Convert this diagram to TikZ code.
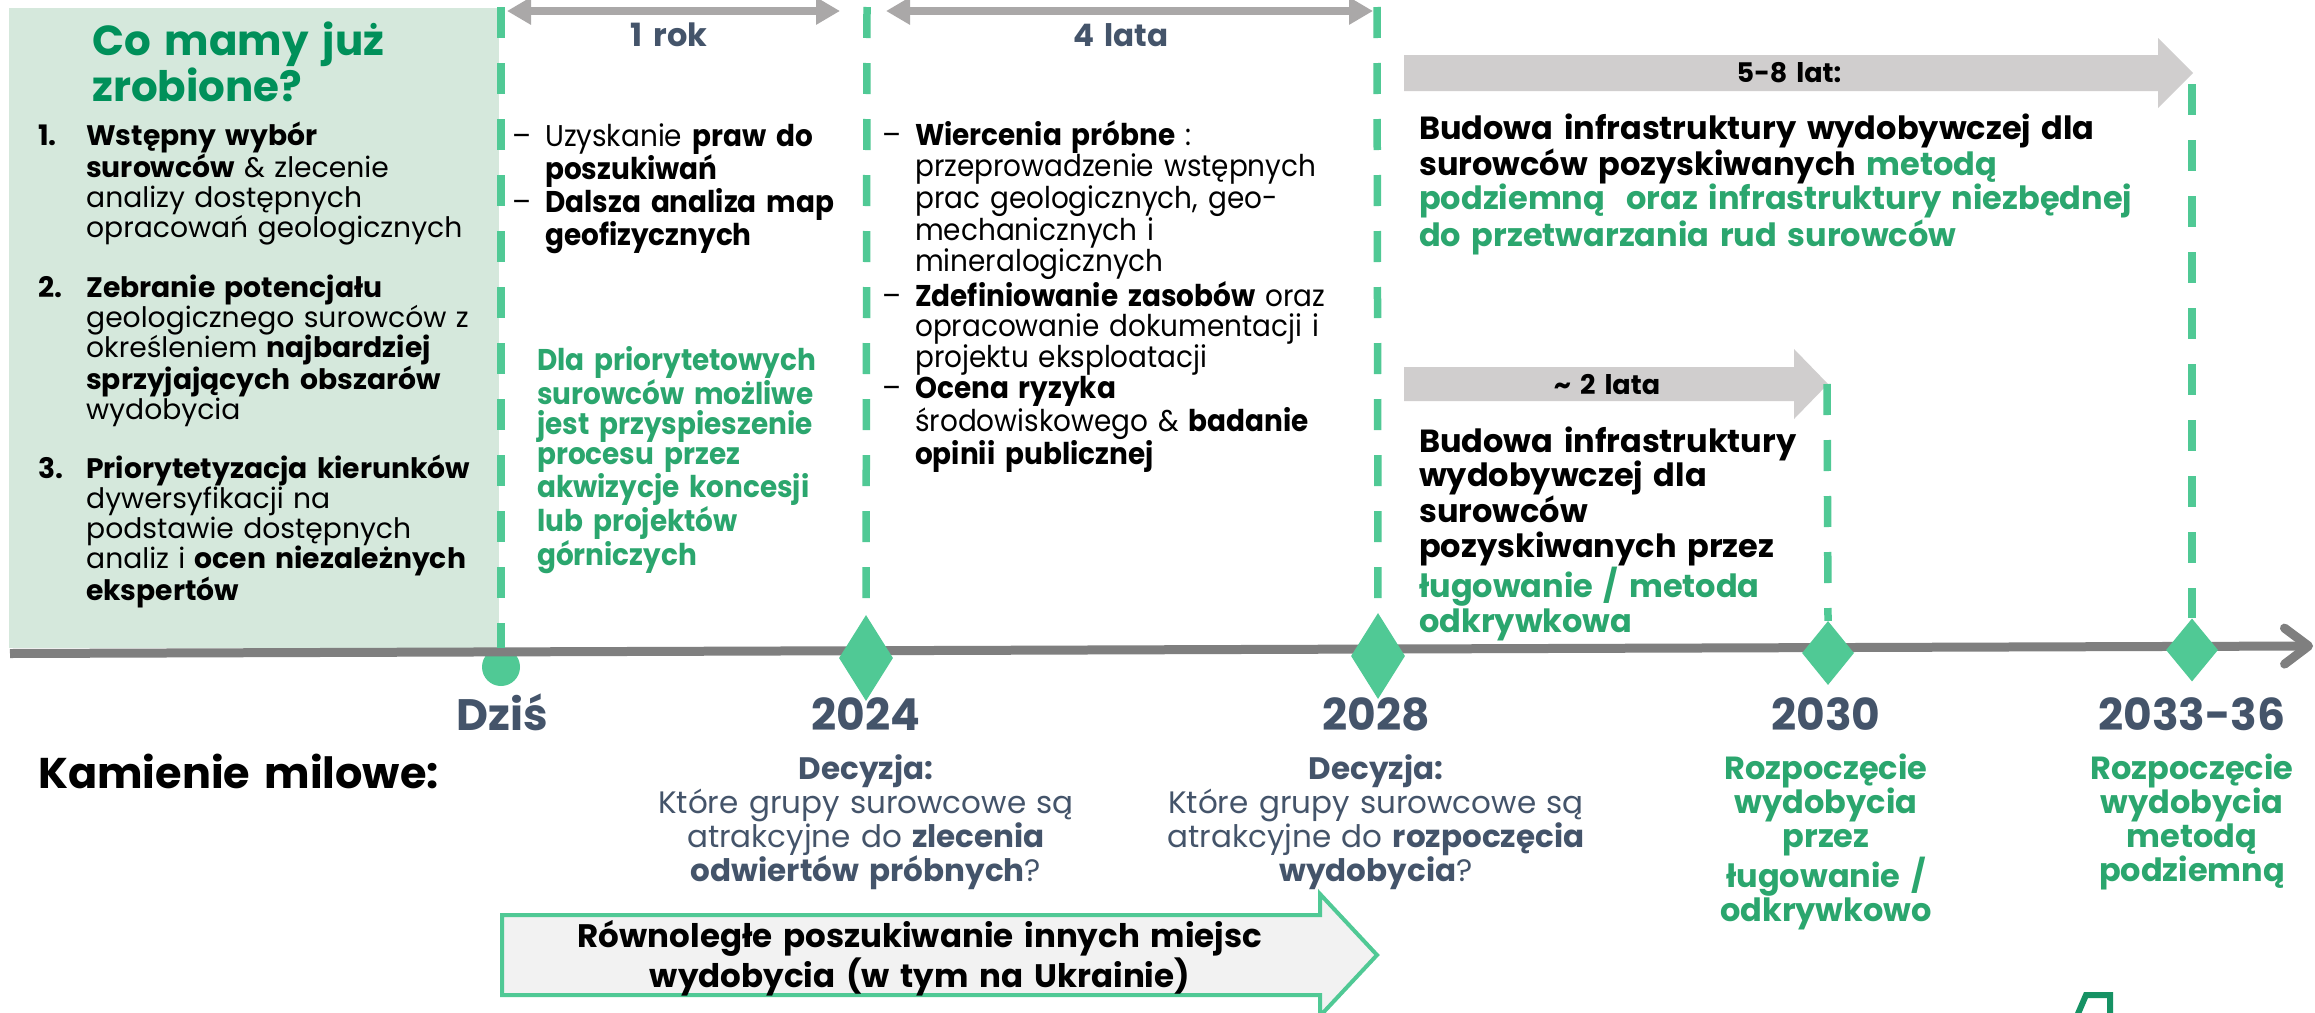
\documentclass[tikz,border=0pt]{standalone}
\usepackage{fontspec}
\setmainfont{Poppins}
\newfontfamily\narrow[FakeStretch=0.93]{Poppins}
\usetikzlibrary{arrows.meta,shapes.geometric}
\definecolor{mint}{RGB}{80,201,149}
\definecolor{panelg}{RGB}{213,232,220}
\definecolor{titleg}{RGB}{0,144,90}
\definecolor{textg}{RGB}{43,166,110}
\definecolor{slate}{RGB}{68,84,106}
\definecolor{tlgray}{RGB}{127,127,127}
\definecolor{arrgray}{RGB}{170,168,168}
\definecolor{blockg}{RGB}{208,206,206}
\definecolor{boxg}{RGB}{242,242,242}
\definecolor{darkg}{RGB}{22,146,100}
\newcommand{\gr}[1]{\textcolor{textg}{#1}}
\newcommand{\dash}{\leavevmode\llap{–\hspace{14pt}}}

\begin{document}
\begin{tikzpicture}[x=1pt,y=-1pt]
\tikzstyle{txt}=[anchor=base west, inner sep=0pt, align=left]
\tikzstyle{ctr}=[anchor=base, inner sep=0pt, align=center]
\tikzstyle{mile}=[diamond, fill=mint, inner sep=0pt]
\tikzstyle{guide}=[mint, line width=7.5pt, dash pattern=on 31pt off 25pt]
\tikzstyle{span}=[arrgray, line width=8pt, {Triangle[length=24pt,width=26pt]}-{Triangle[length=24pt,width=26pt]}]
\tikzstyle{lst}=[txt, text width=420pt, font=\fontsize{28.2}{30.3}\selectfont]
\tikzstyle{col}=[txt, text width=460pt, font=\narrow\fontsize{30}{30.3}\selectfont]
\tikzstyle{big}=[txt, text width=800pt, font=\fontsize{32}{34.7}\selectfont\bfseries]
\tikzstyle{year}=[ctr, slate, text width=300pt, font=\fontsize{44}{44}\selectfont\bfseries]
\tikzstyle{note}=[ctr, text width=460pt, font=\fontsize{31}{34.2}\selectfont]

\clip (0,0) rectangle (2315,1012);
\fill[white] (0,0) rectangle (2315,1012);

% panel on the left
\fill[panelg] (9,8) rectangle (499,648);

% timeline
\node[circle, fill=mint, minimum size=38pt, inner sep=0pt] (M0) at (501,667) {};
\coordinate (tl0) at (10,653.5);
\coordinate (tl1) at (2313,646);
\draw[tlgray, line width=9pt, -{Straight Barb[length=24pt,width=36pt,round]}] (tl0) -- (tl1);

\node[mile, minimum width=54pt, minimum height=86pt] (M1) at (866,658) {};
\node[mile, minimum width=54pt, minimum height=86pt] (M2) at (1378,656) {};
\node[mile, minimum width=52pt, minimum height=64pt] (M3) at (1828,653) {};
\node[mile, minimum width=52pt, minimum height=63pt] (M4) at (2192,650) {};

% block arrows
\fill[blockg] (1404,55) -- (2158,55) -- (2158,38) -- (2193,73) -- (2158,108) -- (2158,91) -- (1404,91) -- cycle;
\fill[blockg] (1404,367) -- (1794,367) -- (1794,349) -- (1828,384) -- (1794,419) -- (1794,401) -- (1404,401) -- cycle;
\coordinate (g3) at (1827,384);
\coordinate (g4) at (2192,84);

% dashed guides
\coordinate (g0) at (501,7);
\coordinate (h0) at (501,648);
\coordinate (g1) at (867,7);
\coordinate (g2) at (1377,7);
\draw[guide] (g0) -- (h0);
\draw[guide] (g1) -- (M1.north);
\draw[guide] (g2) -- (M2.north);
\draw[guide] (g3) -- (M3.north);
\draw[guide] (g4) -- (M4.north);

% spans at the top
\coordinate (a1) at (507,11);
\coordinate (a2) at (840,11);
\coordinate (a3) at (886,11);
\coordinate (a4) at (1373,11);
\draw[span] (a1) -- (a2);
\draw[span] (a3) -- (a4);
\node[ctr, slate, text width=200pt, font=\fontsize{32}{32}\selectfont\bfseries] (S1) at (669,46) {1 rok};
\node[ctr, slate, text width=200pt, font=\fontsize{31}{31}\selectfont\bfseries] (S2) at (1121,46) {4 lata};
\node[ctr, text width=200pt, font=\fontsize{27}{27}\selectfont\bfseries] (S3) at (1789,82) {5-8 lat:};
\node[ctr, text width=200pt, font=\fontsize{27}{27}\selectfont\bfseries] (S4) at (1607,394) {\textasciitilde{} 2 lata};

% left panel text
\node[txt, text width=400pt, titleg, font=\fontsize{42}{46}\selectfont\bfseries] (T) at (92,55) {Co mamy już\\zrobione?};
\node[lst] (L1) at (86,145) {\leavevmode\llap{\makebox[48pt][l]{\textbf{1.}}}\textbf{Wstępny wybór}\\
  \textbf{surowców} \& zlecenie\\ analizy dostępnych\\ opracowań geologicznych};
\node[lst] (L2) at (86,297) {\leavevmode\llap{\makebox[48pt][l]{\textbf{2.}}}\textbf{Zebranie potencjału}\\
  geologicznego surowców z\\ określeniem \textbf{najbardziej}\\ \textbf{sprzyjających obszarów}\\ wydobycia};
\node[lst] (L3) at (86,478) {\leavevmode\llap{\makebox[48pt][l]{\textbf{3.}}}\textbf{Priorytetyzacja kierunków}\\
  dywersyfikacji na\\ podstawie dostępnych\\ analiz i \textbf{ocen niezależnych}\\ \textbf{ekspertów}};

% columns
\node[col] (C1) at (545,146) {\dash Uzyskanie \textbf{praw do}\\ \textbf{poszukiwań}\\
  \dash\textbf{Dalsza analiza map}\\ \textbf{geofizycznych}};
\node[col, textg, font=\narrow\fontsize{30}{30.3}\selectfont\bfseries] (C2) at (537,370) {Dla priorytetowych\\ surowców możliwe\\
  jest przyspieszenie\\ procesu przez\\ akwizycje koncesji\\ lub projektów\\ górniczych};
\node[col] (C3) at (915,145) {\dash\textbf{Wiercenia próbne} :\\ przeprowadzenie wstępnych\\
  prac geologicznych, geo-\\ mechanicznych i\\ mineralogicznych\\
  \dash\textbf{Zdefiniowanie zasobów} oraz\\ opracowanie dokumentacji i\\ projektu eksploatacji\\
  \dash\textbf{Ocena ryzyka}\\ środowiskowego \& \textbf{badanie}\\ \textbf{opinii publicznej}};
\node[big] (B1) at (1419,139) {Budowa infrastruktury wydobywczej dla\\ surowców pozyskiwanych \gr{metodą}\\
  \gr{podziemną\ \ oraz infrastruktury niezbędnej}\\ \gr{do przetwarzania rud surowców}};
\node[big] (B2) at (1419,452) {Budowa infrastruktury\\ wydobywczej dla\\ surowców\\ pozyskiwanych przez\\
  \gr{ługowanie / metoda}\\ \gr{odkrywkowa}};

% milestones
\node[year] (Y0) at (502,730) {Dziś};
\node[year] (Y1) at (866,730) {2024};
\node[year] (Y2) at (1376,730) {2028};
\node[year] (Y3) at (1826,730) {2030};
\node[year] (Y4) at (2192,730) {2033-36};
\node[txt, text width=500pt, font=\fontsize{43}{43}\selectfont\bfseries] (K) at (38,788) {Kamienie milowe:};
\node[note, slate] (N1) at (866,779) {\textbf{Decyzja:}\\ Które grupy surowcowe są\\ atrakcyjne do \textbf{zlecenia}\\ \textbf{odwiertów próbnych}?};
\node[note, slate] (N2) at (1376,779) {\textbf{Decyzja:}\\ Które grupy surowcowe są\\ atrakcyjne do \textbf{rozpoczęcia}\\ \textbf{wydobycia}?};
\node[note, textg, font=\fontsize{32}{34.2}\selectfont\bfseries] (N3) at (1826,779) {Rozpoczęcie\\ wydobycia\\ przez\\ ługowanie /\\ odkrywkowo};
\node[note, textg, font=\fontsize{32}{34.2}\selectfont\bfseries] (N4) at (2192,779) {Rozpoczęcie\\ wydobycia\\ metodą\\ podziemną};

% parallel search
\draw[mint, line width=4pt, fill=boxg] (502,915) -- (1320,915) -- (1320,894) -- (1377,955) -- (1320,1016) -- (1320,995) -- (502,995) -- cycle;
\node[ctr, text width=800pt, font=\fontsize{32.5}{40}\selectfont\bfseries] (P) at (920,947) {Równoległe poszukiwanie innych miejsc\\ wydobycia (w tym na Ukrainie)};

\draw[darkg, line width=6pt] (2077,1016) -- (2086,995) -- (2110,995) -- (2110,1016);
\end{tikzpicture}
\end{document}
